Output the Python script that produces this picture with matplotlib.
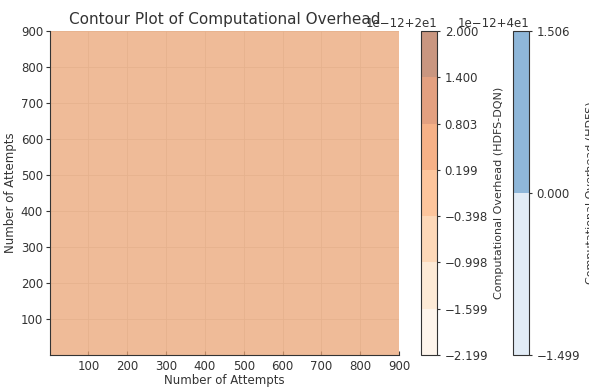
import numpy as np
import matplotlib
matplotlib.use("Agg")
import matplotlib.pyplot as plt

# grid of attempts (both axes)
attempts = np.array([1, 100, 200, 300, 400, 500, 600, 700, 800, 900])

# overhead values (constant across the grid)
overhead_dqn = 20.0
overhead_hdfs = 40.0

# contour levels (offset 1e-12)
dqn_levels = 20.0 + np.array([-2.199, -1.599, -0.998, -0.398, 0.199, 0.803, 1.400, 2.000]) * 1e-12
hdfs_levels = 40.0 + np.array([-1.499, 0.000, 1.506]) * 1e-12

X, Y = np.meshgrid(attempts, attempts)
Z_dqn = np.full(X.shape, overhead_dqn)
Z_hdfs = np.full(X.shape, overhead_hdfs - 0.5e-12)

txt = "#333333"
plt.rcParams["font.family"] = "DejaVu Sans"
plt.rcParams["text.color"] = txt
plt.rcParams["axes.labelcolor"] = txt
plt.rcParams["xtick.color"] = txt
plt.rcParams["ytick.color"] = txt

fig = plt.figure(figsize=(5.89, 3.87), dpi=100)
ax = fig.add_axes([0.0849, 0.0827, 0.5925, 0.837])
cax1 = fig.add_axes([0.7148, 0.0827, 0.0272, 0.837])
cax2 = fig.add_axes([0.871, 0.0827, 0.0272, 0.837])

ax.set_axisbelow(True)
ax.grid(True, color="#d6d6d6", linewidth=0.6)

cs_h = ax.contourf(X, Y, Z_hdfs, levels=hdfs_levels, cmap="Blues", alpha=0.5)
cs_d = ax.contourf(X, Y, Z_dqn, levels=dqn_levels, cmap="Oranges", alpha=0.5)

ax.set_title("Contour Plot of Computational Overhead", fontsize=11, pad=5)
ax.set_xlabel("Number of Attempts", fontsize=8.5, labelpad=1)
ax.set_ylabel("Number of Attempts", fontsize=8.5, labelpad=3)
ax.set_xticks(attempts[1:])
ax.set_yticks(attempts[1:])
ax.tick_params(labelsize=8.5)
ax.tick_params(axis="x", direction="in", length=3)
ax.tick_params(axis="y", direction="out", length=3, pad=2)
for s in ["top", "right"]:
    ax.spines[s].set_visible(False)
for s in ["left", "bottom"]:
    ax.spines[s].set_color(txt)

cb1 = fig.colorbar(cs_d, cax=cax1)
cb1.set_label("Computational Overhead (HDFS-DQN)", fontsize=8)
cb2 = fig.colorbar(cs_h, cax=cax2)
cb2.set_label("Computational Overhead (HDFS)", fontsize=8)
for cb in (cb1, cb2):
    cb.ax.tick_params(labelsize=8.5, length=2)
    cb.ax.yaxis.get_offset_text().set_fontsize(8.5)
    cb.outline.set_edgecolor(txt)

fig.savefig("out.png", dpi=100)
